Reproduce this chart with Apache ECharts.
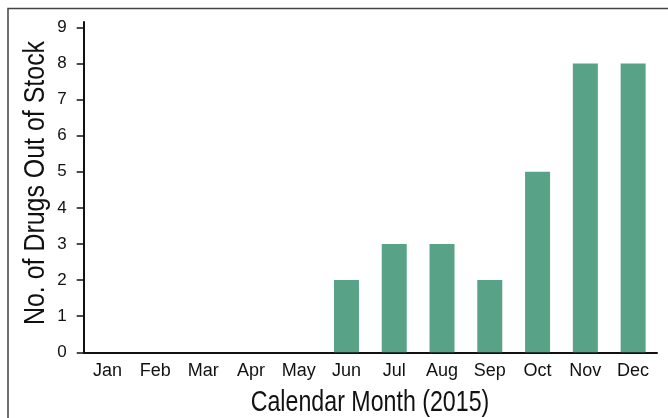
<!DOCTYPE html>
<html>
<head>
<meta charset="utf-8">
<script src="https://cdn.jsdelivr.net/npm/echarts@6/dist/echarts.min.js"></script>
<style>
  html, body { margin: 0; padding: 0; background: #fff; }
  #chart { width: 668px; height: 418px; }
</style>
</head>
<body>
<div id="chart"></div>
<script>
const months = ['Jan', 'Feb', 'Mar', 'Apr', 'May', 'Jun', 'Jul', 'Aug', 'Sep', 'Oct', 'Nov', 'Dec'];
const outOfStock = [0, 0, 0, 0, 0, 2, 3, 3, 2, 5, 8, 8];
const yTicks = [0, 1, 2, 3, 4, 5, 6, 7, 8, 9];
const xTitle = 'Calendar Month (2015)';
const yTitle = 'No. of Drugs Out of Stock';

const labelFont = 'Liberation Sans, Arial, sans-serif';

const chart = echarts.init(document.getElementById('chart'));

// axis titles are condensed in the original, so squeeze them with scaleX
chart.setOption({
    animation: false,
    grid: {
        left: 83.7,
        right: 11,
        top: 22,
        bottom: 65.7,
        containLabel: false
    },
    graphic: [
        {
            type: 'polyline',
            shape: { points: [[8, 418], [8, 8.5], [668, 8.5]] },
            style: { stroke: '#444', lineWidth: 1.5, fill: null }
        },
        {
            type: 'text',
            x: 370, y: 403,
            scaleX: 0.8,
            style: { text: xTitle, font: '29px Liberation Sans', fill: '#111', align: 'center', verticalAlign: 'middle' }
        },
        {
            type: 'text',
            x: 36, y: 183,
            rotation: Math.PI / 2,
            scaleX: 0.86,
            style: { text: yTitle, font: '29px Liberation Sans', fill: '#111', align: 'center', verticalAlign: 'middle' }
        }
    ],
    xAxis: {
        type: 'category',
        data: months,
        axisLine: { lineStyle: { color: '#111', width: 2 } },
        axisTick: { show: false },
        axisLabel: { fontFamily: labelFont, fontSize: 18, color: '#111', margin: 10, interval: 0 }
    },
    yAxis: {
        type: 'value',
        min: 0,
        max: 9.15,
        splitLine: { show: false },
        axisLine: { show: true, lineStyle: { color: '#111', width: 2 } },
        axisTick: { show: true, length: 7, lineStyle: { color: '#111', width: 1.5 }, customValues: yTicks },
        axisLabel: { fontFamily: labelFont, fontSize: 17, color: '#111', margin: 17, customValues: yTicks }
    },
    series: [{
        type: 'bar',
        data: outOfStock,
        barWidth: 25,
        itemStyle: { color: '#58a388' }
    }]
});
</script>
</body>
</html>
